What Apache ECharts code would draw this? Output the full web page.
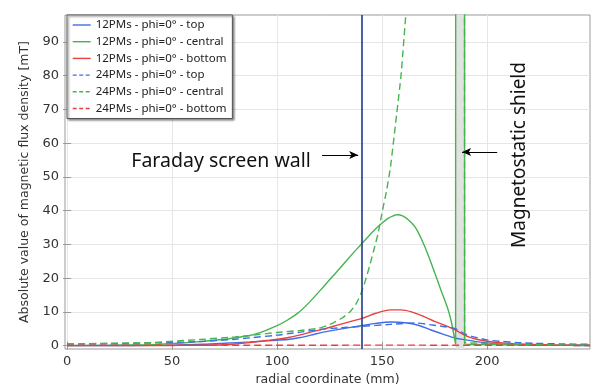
<!DOCTYPE html>
<html>
<head>
<meta charset="utf-8">
<script src="https://cdn.jsdelivr.net/npm/echarts@6/dist/echarts.min.js"></script>
<style>
  html, body { margin: 0; padding: 0; background: #fff; }
  #chart { width: 597px; height: 391px; }
</style>
</head>
<body>
<div id="chart"></div>
<script>
// tick labels
const xTicks = [0, 50, 100, 150, 200];
const yTicks = [0, 10, 20, 30, 40, 50, 60, 70, 80, 90];

// series names
const names = [
    '12PMs - phi=0° - top',
    '12PMs - phi=0° - central',
    '12PMs - phi=0° - bottom',
    '24PMs - phi=0° - top',
    '24PMs - phi=0° - central',
    '24PMs - phi=0° - bottom'
];

// [radial coordinate (mm), |B| (mT)]
const top12 = [[0,0],[30,0.05],[50,0.15],[65,0.4],[75,0.7],[87,1.1],[95,1.4],[100,1.6],[106,1.9],[111,2.4],[116,3.1],[122,4.0],[130,4.9],[140,5.9],[147,6.6],[154,7.0],[162,6.7],[168,5.9],[173,4.7],[179,3.4],[185,2.2],[190,1.7],[195,1.2],[200,0.8],[206,0.5],[215,0.3],[230,0.12],[249,0.05]];
const central12 = [[0,0.05],[20,0.1],[40,0.3],[55,0.8],[65,1.3],[75,1.9],[82,2.5],[87,3.0],[91,3.7],[95,4.6],[100,5.9],[105,7.6],[110,9.7],[115,12.6],[120,16.0],[125,19.5],[130,23.0],[135,26.6],[140,30.0],[145,33.4],[149,35.8],[153,37.8],[157,38.8],[160,38.4],[163,37.0],[166,34.9],[170,29.8],[174,23.4],[178,16.5],[181,11.5],[183,7.0],[185,0.5],[185.1,300],[189.2,300],[189.3,0.4],[195,0.35],[210,0.25],[230,0.1],[249,0.05]];
const bottom12 = [[0,0],[30,0],[50,0.05],[71,0.2],[80,0.5],[87,0.9],[95,1.5],[100,1.9],[106,2.5],[111,3.2],[116,4.0],[122,4.9],[130,6.3],[140,8.0],[147,9.6],[154,10.6],[159,10.6],[164,10.0],[170,8.6],[175,7.2],[180,6.0],[185,4.6],[190,2.9],[195,1.9],[200,1.3],[206,0.9],[215,0.5],[230,0.2],[249,0.1]];
const top24 = [[0,0.5],[20,0.6],[40,0.8],[63,1.2],[80,1.9],[87,2.3],[100,3.1],[106,3.6],[111,4.0],[122,4.9],[130,5.3],[140,5.7],[154,6.3],[166,6.7],[174,6.1],[180,5.6],[185,5.0],[190,3.3],[195,2.4],[200,1.7],[206,1.3],[215,0.9],[222,0.7],[235,0.5],[249,0.4]];
const central24 = [[0,0.5],[20,0.7],[40,0.9],[63,1.8],[80,2.6],[87,3.0],[100,3.9],[111,4.5],[120,5.2],[124,6.0],[127,6.8],[131,8.2],[135,10.2],[138,12.8],[140,15.5],[142,19.2],[144,23.5],[146,28.2],[148,33.0],[150,39.5],[152,45.5],[154,53],[157,69],[159,80],[161.4,99],[163,112],[185.1,300],[189.2,300],[189.3,1.0],[195,0.75],[205,0.5],[220,0.3],[249,0.15]];
const bottom24 = [[0,0.1],[100,0.1],[150,0.15],[200,0.1],[249,0.05]];

// annotations
const faradayX = 140.5;
const shieldBand = [185.1, 189.2];
const faradayArrow = [[121.4, 56.5], [138.6, 56.5]];
const shieldArrow = [[204.8, 57.4], [188.1, 57.4]];

const blue = '#3d6fe6';
const green = '#46b450';
const red = '#e8403c';
const colors = [blue, green, red, blue, green, red];

let chart = echarts.init(document.getElementById('chart'));

function line(name, data, color, dashed, smooth) {
    return {
        name: name,
        type: 'line',
        data: data,
        showSymbol: false,
        symbol: 'none',
        smooth: smooth,
        lineStyle: {color: color, width: 1.4, type: dashed ? [7, 4] : 'solid'},
        itemStyle: {color: color},
        silent: true,
        z: 3
    };
}

const series = [
    line(names[0], top12, blue, false, 0.3),
    line(names[1], central12, green, false, 0.15),
    line(names[2], bottom12, red, false, 0.3),
    line(names[3], top24, blue, true, 0.3),
    line(names[4], central24, green, true, 0.15),
    line(names[5], bottom24, red, true, 0.3)
];

// shield band, Faraday wall and arrows live on the first series
series[0].markArea = {
    silent: true,
    itemStyle: {color: '#e2e2e2'},
    data: [[{xAxis: shieldBand[0]}, {xAxis: shieldBand[1]}]]
};
series[0].markLine = {
    silent: true,
    animation: false,
    label: {show: false},
    data: [
        [{coord: [faradayX, -1], symbol: 'none', lineStyle: {color: '#1f3a8c', width: 1.6, type: 'solid'}},
         {coord: [faradayX, 98], symbol: 'none'}],
        [{coord: faradayArrow[0], symbol: 'none', lineStyle: {color: '#000', width: 1.2, type: 'solid'}},
         {coord: faradayArrow[1], symbol: 'arrow', symbolSize: [6, 9]}],
        [{coord: shieldArrow[0], symbol: 'none', lineStyle: {color: '#000', width: 1.2, type: 'solid'}},
         {coord: shieldArrow[1], symbol: 'arrow', symbolSize: [6, 9]}]
    ]
};

const legendData = names.map(function (n, i) {
    return {
        name: n,
        itemStyle: {opacity: 0},
        lineStyle: {color: colors[i], width: 1.4, type: i >= 3 ? [4, 2.5] : 'solid'}
    };
});

const option = {
    animation: false,
    backgroundColor: '#fff',
    grid: {
        left: 65,
        right: 7,
        top: 15,
        bottom: 34.5,
        show: true,
        borderColor: '#9a9a9a',
        borderWidth: 1
    },
    legend: {
        orient: 'vertical',
        left: 67,
        top: 15,
        data: legendData,
        itemWidth: 18,
        itemHeight: 12,
        itemGap: 4.7,
        padding: [4, 6, 4, 5],
        backgroundColor: '#fff',
        borderColor: '#555',
        borderWidth: 1,
        borderRadius: 0,
        shadowColor: 'rgba(0,0,0,0.45)',
        shadowBlur: 2,
        shadowOffsetX: 1.5,
        shadowOffsetY: 1.5,
        itemStyle: {opacity: 0},
        textStyle: {fontFamily: 'Noto Sans', fontSize: 11.5, color: '#222'},
        selectedMode: false
    },
    xAxis: [{
        type: 'value',
        min: -1,
        max: 249,
        name: 'radial coordinate (mm)',
        nameLocation: 'middle',
        nameGap: 24,
        nameTextStyle: {fontFamily: 'DejaVu Sans', fontSize: 12.5, color: '#333'},
        axisLine: {show: false},
        axisTick: {show: true, inside: true, length: 4, lineStyle: {color: '#999'}, customValues: xTicks},
        axisLabel: {fontFamily: 'DejaVu Sans', fontSize: 13, color: '#333', margin: 6, customValues: xTicks},
        splitLine: {show: true, lineStyle: {color: '#e6e6e6', width: 1}}
    }, {
        type: 'value',
        position: 'top',
        min: -1,
        max: 249,
        axisLine: {show: false},
        axisTick: {show: true, inside: true, length: 4, lineStyle: {color: '#999'}, customValues: xTicks},
        axisLabel: {show: false, customValues: xTicks},
        splitLine: {show: false}
    }],
    yAxis: [{
        type: 'value',
        min: -1,
        max: 98,
        name: 'Absolute value of magnetic flux density [mT]',
        nameLocation: 'middle',
        nameGap: 33,
        nameTextStyle: {fontFamily: 'DejaVu Sans', fontSize: 12.5, color: '#333'},
        axisLine: {show: false},
        axisTick: {show: true, inside: true, length: 4, lineStyle: {color: '#999'}, customValues: yTicks},
        axisLabel: {fontFamily: 'DejaVu Sans', fontSize: 13, color: '#333', margin: 6, customValues: yTicks},
        splitLine: {show: true, lineStyle: {color: '#e6e6e6', width: 1}}
    }, {
        type: 'value',
        position: 'right',
        min: -1,
        max: 98,
        axisLine: {show: false},
        axisTick: {show: true, inside: true, length: 4, lineStyle: {color: '#999'}, customValues: yTicks},
        axisLabel: {show: false, customValues: yTicks},
        splitLine: {show: false}
    }],
    graphic: [{
        type: 'text',
        x: 221,
        y: 161,
        style: {
            text: 'Faraday screen wall',
            fontFamily: 'Noto Sans',
            fontSize: 19.5,
            fill: '#111',
            align: 'center',
            verticalAlign: 'middle'
        },
        z: 10
    }, {
        type: 'text',
        x: 520,
        y: 155,
        rotation: Math.PI / 2,
        style: {
            text: 'Magnetostatic shield',
            fontFamily: 'Noto Sans',
            fontSize: 19,
            fill: '#111',
            align: 'center',
            verticalAlign: 'middle'
        },
        z: 10
    }],
    series: series
};

chart.setOption(option);

window.addEventListener('resize', function () {
    chart.resize();
});
</script>
</body>
</html>
